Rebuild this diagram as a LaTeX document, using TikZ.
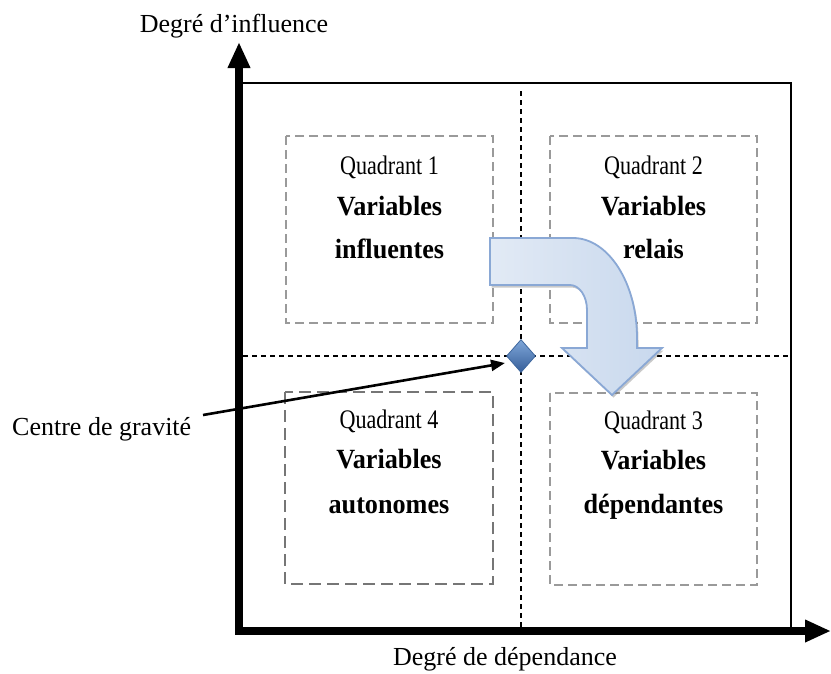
\documentclass[tikz,border=0pt]{standalone}
\usepackage{fontspec}
\setmainfont{Liberation Serif}
\usetikzlibrary{arrows.meta,shapes.geometric,shadows}
\definecolor{arrowL}{HTML}{E2EAF5}
\definecolor{arrowR}{HTML}{C8D8ED}
\definecolor{arrowE}{HTML}{8AA8D5}
\definecolor{diamT}{HTML}{7FA7D9}
\definecolor{diamB}{HTML}{365E99}
\definecolor{diamE}{HTML}{3F689F}
\definecolor{qgray}{HTML}{9A9A9A}
\definecolor{qdark}{HTML}{767676}
\newcommand{\qcond}[1]{\scalebox{0.85}[1.03]{#1}}
\newcommand{\bcond}[1]{\scalebox{0.97}[1.03]{\bfseries #1}}
\begin{document}
\begin{tikzpicture}[x=1pt,y=-1pt,
  lab/.style={font=\fontsize{26}{30}\selectfont, anchor=base, inner sep=0pt},
  qtitle/.style={font=\fontsize{26}{30}\selectfont, anchor=base, inner sep=0pt},
  qbold/.style={font=\fontsize{27}{31}\selectfont, anchor=base, inner sep=0pt},
  qbox/.style={draw=qgray, line width=1.3pt, dash pattern=on 9pt off 5pt},
  qboxdark/.style={draw=qdark, line width=2.8pt, dash pattern=on 12pt off 6pt},
  midline/.style={draw=black, line width=1.2pt, dash pattern=on 5pt off 4pt},
  axisline/.style={line width=8pt, {Triangle[length=26pt,width=21pt]}-{Triangle[length=26pt,width=21pt]}},
  pointer/.style={line width=2.6pt, -{Triangle[length=14pt,width=11pt]}},
  bigarrow/.style={draw=arrowE, line width=1.8pt, left color=arrowL, right color=arrowR,
     drop shadow={shadow xshift=1.5pt, shadow yshift=-2.5pt, opacity=0.35, fill=black!60}},
  gravity/.style={diamond, minimum width=29pt, minimum height=33pt, inner sep=0pt,
     top color=diamT, bottom color=diamB, draw=diamE, line width=0.8pt}
]
\useasboundingbox[fill=white] (0,0) rectangle (831,673);

% frame
\draw[line width=1.5pt] (239,83) -- (791,83) -- (791,631);

% centre lines
\coordinate (vtop) at (521,91);
\coordinate (vbot) at (521,631);
\coordinate (hleft) at (243,356);
\coordinate (hright) at (790,356);
\draw[midline] (vtop) -- (vbot);
\draw[midline] (hleft) -- (hright);

% axes
\coordinate (ytip) at (239,42);
\coordinate (orig) at (239,631);
\coordinate (xtip) at (831,631);
\draw[axisline] (ytip) -- (orig) -- (xtip);

% axis labels
\node[lab] (ylab) at (234,32) {Degré d’influence};
\node[lab] (xlab) at (505,665) {Degré de dépendance};

% quadrant boxes
\draw[qbox] (286,136) rectangle (493,323);
\draw[qbox] (550,136) rectangle (757,323);
\draw[qbox] (550,393) rectangle (757,585);
\draw[qboxdark] (285,392) rectangle (493,584);

% quadrant texts
\node[qtitle] (q1a) at (389.5,174) {\qcond{Quadrant 1}};
\node[qbold]  (q1b) at (389.5,215) {\bcond{Variables}};
\node[qbold]  (q1c) at (389.5,258) {\bcond{influentes}};

\node[qtitle] (q2a) at (653.5,174) {\qcond{Quadrant 2}};
\node[qbold]  (q2b) at (653.5,215) {\bcond{Variables}};
\node[qbold]  (q2c) at (653.5,258) {\bcond{relais}};

\node[qtitle] (q4a) at (389,428) {\qcond{Quadrant 4}};
\node[qbold]  (q4b) at (389,468) {\bcond{Variables}};
\node[qbold]  (q4c) at (389,513) {\bcond{autonomes}};

\node[qtitle] (q3a) at (653.5,429) {\qcond{Quadrant 3}};
\node[qbold]  (q3b) at (653.5,469) {\bcond{Variables}};
\node[qbold]  (q3c) at (653.5,513) {\bcond{dépendantes}};

% curved arrow
\path[bigarrow] (490,238) -- (573,238)
  .. controls (608.3,238) and (637,282.8) .. (637,338)
  -- (637,348) -- (662,348) -- (612,395) -- (562,348) -- (587,348)
  -- (587,310) .. controls (587,296.2) and (579.4,285) .. (570,285)
  -- (490,285) -- cycle;

% centre of gravity
\node[gravity] (cog) at (521,356) {};
\node[lab, anchor=base west] (cg) at (12,435) {Centre de gravité};
\coordinate (cgs) at (203,415);
\coordinate (cge) at (505,363);
\draw[pointer] (cgs) -- (cge);
\end{tikzpicture}
\end{document}
